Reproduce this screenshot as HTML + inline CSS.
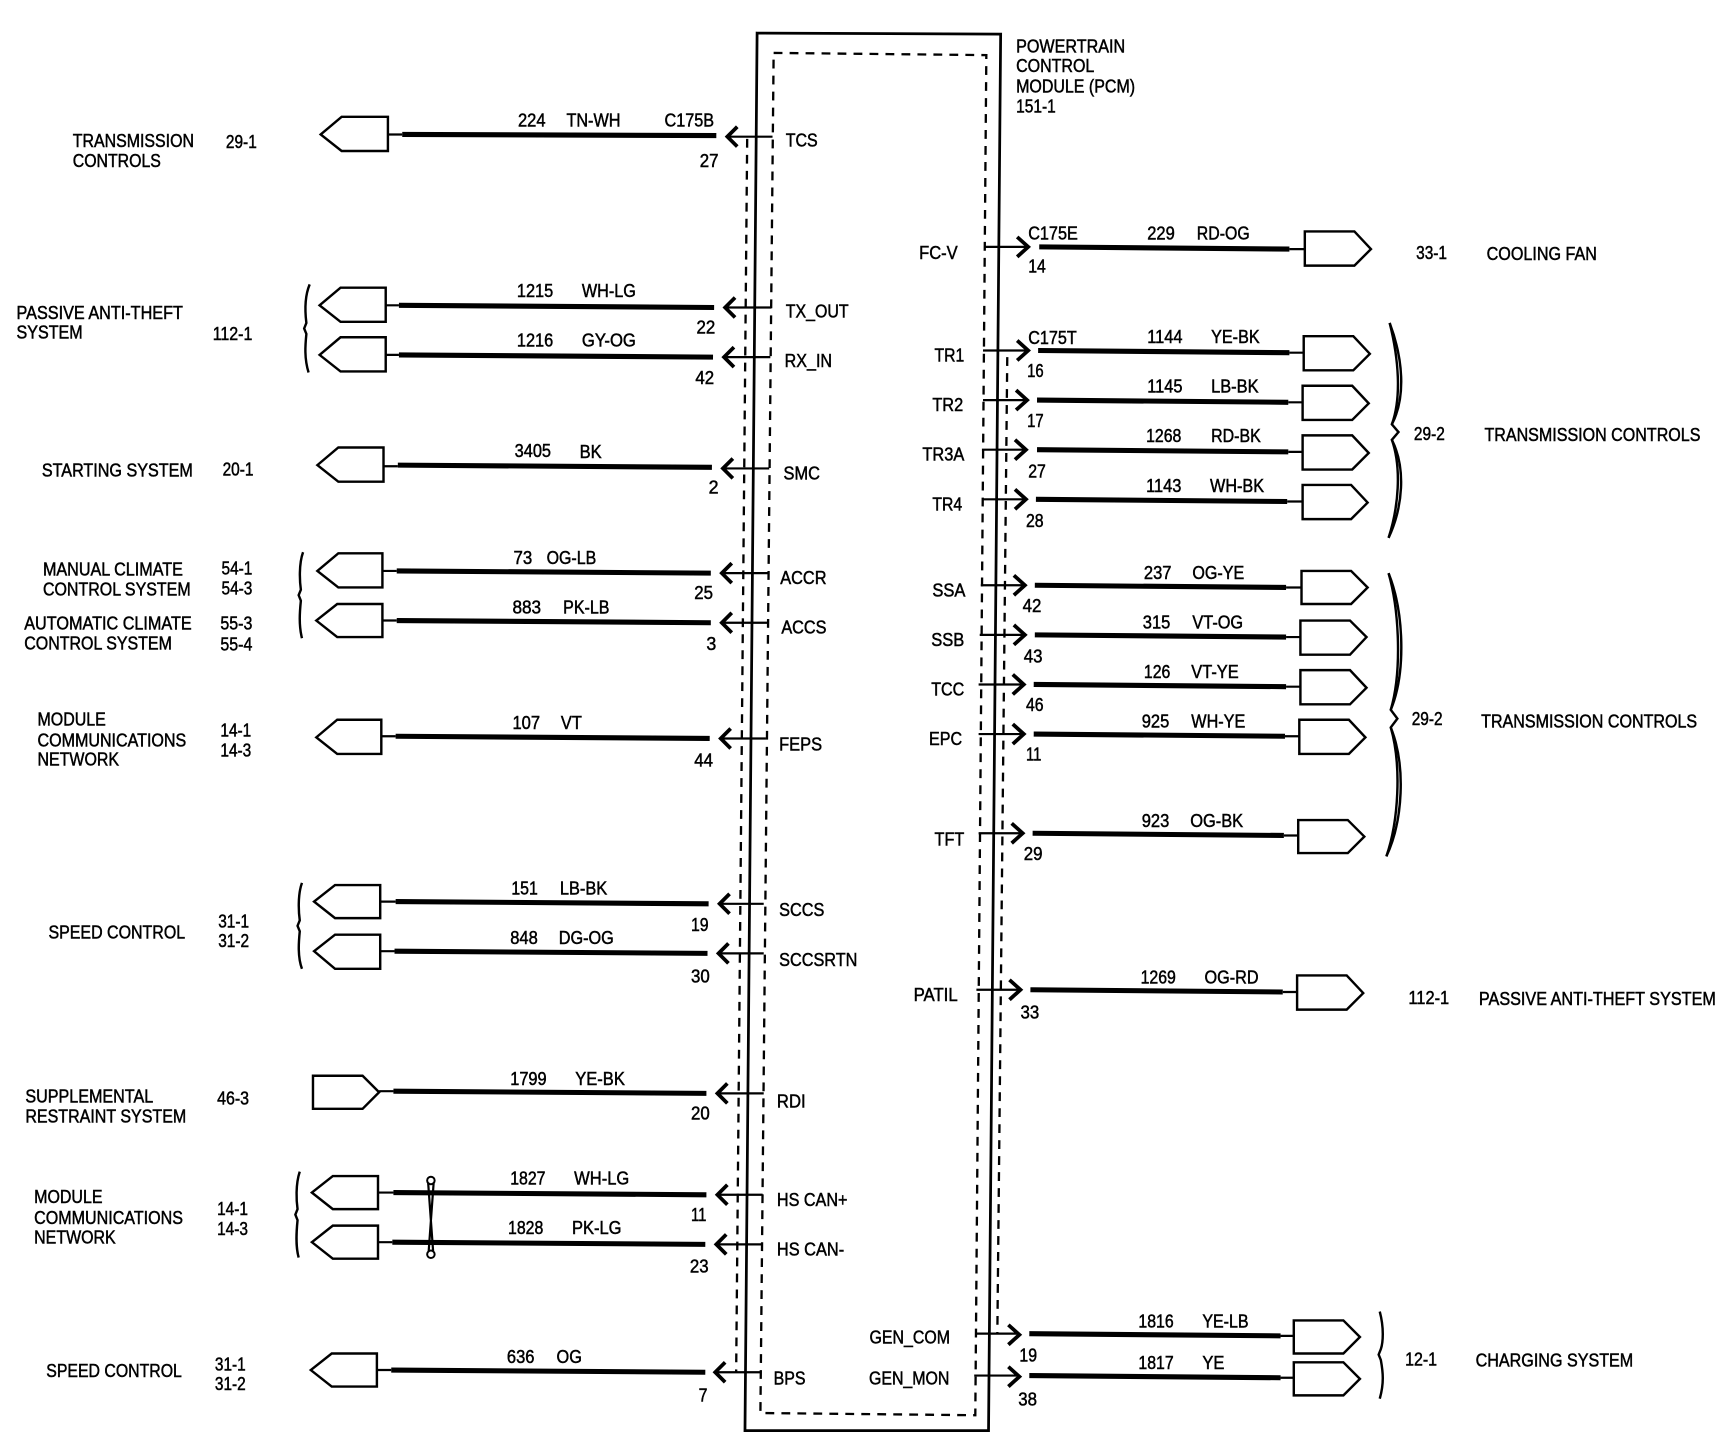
<!DOCTYPE html>
<html><head><meta charset="utf-8"><style>
html,body{margin:0;padding:0;background:#fff;width:1728px;height:1456px;overflow:hidden}
svg{display:block}
text{font-family:"Liberation Sans",sans-serif;font-size:17px;fill:#000;stroke:#000;stroke-width:.45}
.b{fill:#fff;stroke:#000;stroke-width:2.2}
.n{fill:none;stroke:#000;stroke-width:2}
.t{fill:none;stroke:#000;stroke-width:4.6}
.c{fill:none;stroke:#000;stroke-width:3.4}
.d{fill:none;stroke:#000;stroke-width:2.1;stroke-dasharray:8 6.5}
.br{fill:none;stroke:#000;stroke-width:2.2}
</style></head><body>
<svg xmlns="http://www.w3.org/2000/svg" width="1728" height="1456" viewBox="0 0 1568 1321" preserveAspectRatio="none">
<rect width="1568" height="1321" fill="#fff"/>
<!-- module -->
<path d="M687 30 L908 31 L897 1298 L676 1298 Z" fill="none" stroke="#000" stroke-width="2.5"/>
<path class="d" d="M702 48 L895 50 L885 1284 L690 1282 Z"/>
<path class="d" d="M678 126 L668 1245"/>
<path class="d" d="M914 324 L905 1210"/>

<!-- left wires -->
<g>
<path class="b" d="M291 122 L310 106 L352 106 L352 137 L310 137 Z"/><path class="n" d="M352 122 L365 122 M660 124 L701 124"/><path class="t" d="M365 122 L650 123"/><path class="c" d="M669 115 L660 124 L669 133"/>
<path class="b" d="M290 277 L309 261 L350 261 L350 292 L309 292 Z"/><path class="n" d="M350 277 L362 277 M658 279 L700 279"/><path class="t" d="M362 277 L648 279"/><path class="c" d="M667 270 L658 279 L667 288"/>
<path class="b" d="M290 322 L309 306 L350 306 L350 337 L309 337 Z"/><path class="n" d="M350 322 L362 322 M657 324 L699 324"/><path class="t" d="M362 322 L647 324"/><path class="c" d="M666 315 L657 324 L666 333"/>
<path class="b" d="M288 422 L307 406 L348 406 L348 437 L307 437 Z"/><path class="n" d="M348 423 L361 423 M656 425 L698 425"/><path class="t" d="M361 422 L646 424"/><path class="c" d="M665 416 L656 425 L665 434"/>
<path class="b" d="M288 518 L307 502 L347 502 L347 533 L307 533 Z"/><path class="n" d="M347 518 L360 518 M655 520 L697 520"/><path class="t" d="M360 518 L645 520"/><path class="c" d="M664 511 L655 520 L664 529"/>
<path class="b" d="M287 563 L306 548 L347 548 L347 578 L306 578 Z"/><path class="n" d="M347 563 L360 563 M655 565 L697 565"/><path class="t" d="M360 563 L645 565"/><path class="c" d="M664 556 L655 565 L664 574"/>
<path class="b" d="M287 669 L306 653 L346 653 L346 684 L306 684 Z"/><path class="n" d="M346 668 L359 668 M654 670 L695 670"/><path class="t" d="M359 668 L644 670"/><path class="c" d="M663 661 L654 670 L663 679"/>
<path class="b" d="M285 818 L304 803 L345 803 L345 833 L304 833 Z"/><path class="n" d="M345 818 L359 818 M653 820 L693 820"/><path class="t" d="M359 818 L643 820"/><path class="c" d="M662 811 L653 820 L662 829"/>
<path class="b" d="M285 863 L304 848 L345 848 L345 879 L304 879 Z"/><path class="n" d="M345 863 L358 863 M652 865 L693 865"/><path class="t" d="M358 863 L642 865"/><path class="c" d="M661 856 L652 865 L661 874"/>
<path class="b" d="M284 976 L329 976 L344 991 L329 1006 L284 1006 Z"/><path class="n" d="M344 990 L357 990 M651 992 L693 992"/><path class="t" d="M357 990 L641 992"/><path class="c" d="M660 983 L651 992 L660 1001"/>
<path class="b" d="M283 1082 L302 1067 L343 1067 L343 1097 L302 1097 Z"/><path class="n" d="M343 1082 L357 1082 M651 1084 L692 1084"/><path class="t" d="M357 1082 L641 1084"/><path class="c" d="M660 1075 L651 1084 L660 1093"/>
<path class="b" d="M283 1127 L302 1112 L343 1112 L343 1142 L302 1142 Z"/><path class="n" d="M343 1127 L356 1127 M650 1129 L692 1129"/><path class="t" d="M356 1127 L640 1129"/><path class="c" d="M659 1120 L650 1129 L659 1138"/>
<path class="b" d="M282 1243 L301 1228 L342 1228 L342 1258 L301 1258 Z"/><path class="n" d="M342 1243 L355 1243 M649 1245 L691 1245"/><path class="t" d="M355 1243 L640 1245"/><path class="c" d="M658 1236 L649 1245 L658 1254"/>
</g>
<!-- twisted pair -->
<circle cx="391" cy="1071" r="3.4" fill="none" stroke="#000" stroke-width="1.8"/>
<circle cx="391" cy="1138" r="3.4" fill="none" stroke="#000" stroke-width="1.8"/>
<path class="n" d="M388.5 1073 L393 1135 M393.5 1073 L389 1135"/>

<!-- right wires -->
<g>
<path class="n" d="M893 224 L932 224 M1170 226 L1184 226"/><path class="t" d="M943 224 L1170 226"/><path class="c" d="M923 215 L933 224 L923 233"/><path class="b" d="M1184 210 L1229 210 L1244 226 L1229 241 L1184 241 Z"/>
<path class="n" d="M892 318 L932 318 M1170 320 L1183 320"/><path class="t" d="M942 318 L1170 320"/><path class="c" d="M923 309 L933 318 L923 327"/><path class="b" d="M1183 305 L1228 305 L1243 321 L1228 336 L1183 336 Z"/>
<path class="n" d="M892 363 L931 363 M1169 365 L1182 365"/><path class="t" d="M941 363 L1169 365"/><path class="c" d="M922 354 L932 363 L922 372"/><path class="b" d="M1182 350 L1227 350 L1242 366 L1227 381 L1182 381 Z"/>
<path class="n" d="M891 408 L930 408 M1169 410 L1182 410"/><path class="t" d="M941 408 L1169 410"/><path class="c" d="M921 399 L931 408 L921 417"/><path class="b" d="M1182 395 L1227 395 L1242 411 L1227 426 L1182 426 Z"/>
<path class="n" d="M891 453 L930 453 M1168 455 L1182 455"/><path class="t" d="M940 453 L1168 455"/><path class="c" d="M921 444 L931 453 L921 462"/><path class="b" d="M1182 440 L1226 440 L1241 456 L1226 471 L1182 471 Z"/>
<path class="n" d="M890 531 L929 531 M1167 533 L1181 533"/><path class="t" d="M939 531 L1167 533"/><path class="c" d="M920 522 L930 531 L920 540"/><path class="b" d="M1181 518 L1226 518 L1241 533 L1226 548 L1181 548 Z"/>
<path class="n" d="M889 576 L929 576 M1167 578 L1180 578"/><path class="t" d="M939 576 L1167 578"/><path class="c" d="M920 567 L930 576 L920 585"/><path class="b" d="M1180 563 L1225 563 L1240 578 L1225 594 L1180 594 Z"/>
<path class="n" d="M888 621 L928 621 M1167 623 L1180 623"/><path class="t" d="M938 621 L1167 623"/><path class="c" d="M919 612 L929 621 L919 630"/><path class="b" d="M1180 608 L1225 608 L1240 624 L1225 639 L1180 639 Z"/>
<path class="n" d="M888 666 L928 666 M1166 668 L1179 668"/><path class="t" d="M938 666 L1166 668"/><path class="c" d="M919 657 L929 666 L919 675"/><path class="b" d="M1179 653 L1224 653 L1239 669 L1224 684 L1179 684 Z"/>
<path class="n" d="M888 756 L927 756 M1165 758 L1178 758"/><path class="t" d="M937 756 L1165 758"/><path class="c" d="M918 747 L928 756 L918 765"/><path class="b" d="M1178 744 L1223 744 L1238 759 L1223 774 L1178 774 Z"/>
<path class="n" d="M886 898 L925 898 M1164 900 L1177 900"/><path class="t" d="M935 898 L1164 900"/><path class="c" d="M916 889 L926 898 L916 907"/><path class="b" d="M1177 885 L1222 885 L1237 901 L1222 916 L1177 916 Z"/>
<path class="n" d="M885 1210 L923 1210 M1162 1212 L1174 1212"/><path class="t" d="M934 1210 L1162 1212"/><path class="c" d="M915 1202 L925 1211 L915 1220"/><path class="b" d="M1174 1198 L1219 1198 L1234 1213 L1219 1228 L1174 1228 Z"/>
<path class="n" d="M884 1248 L923 1248 M1162 1250 L1174 1250"/><path class="t" d="M934 1248 L1162 1250"/><path class="c" d="M915 1240 L925 1249 L915 1258"/><path class="b" d="M1174 1236 L1219 1236 L1234 1251 L1219 1266 L1174 1266 Z"/>
</g>

<!-- braces -->
<path class="br" d="M281 258 C276 270 277 285 278 293 L276 298 L278 303 C277 313 276 325 280 338"/>
<path class="br" d="M275 501 C271 512 272 528 273 535 L271 540 L273 545 C272 555 271 567 274 579"/>
<path class="br" d="M274 801 C270 812 271 828 272 835 L270 840 L272 845 C271 855 270 868 274 879"/>
<path class="br" d="M272 1063 C268 1075 269 1090 270 1097 L268 1102 L270 1107 C269 1117 268 1130 271 1141"/>
<path class="br" d="M1261 293 C1273 325 1276 360 1263 385 L1269 392 L1263 399 C1276 425 1273 460 1260 488"/>
<path class="br" d="M1261 293 C1269 325 1272 360 1263 385 M1263 399 C1272 425 1269 460 1260 488" stroke-width="1.4"/>
<path class="br" d="M1260 520 C1274 555 1276 610 1262 644 L1268 652 L1262 660 C1276 695 1273 745 1258 777"/>
<path class="br" d="M1260 520 C1270 555 1272 610 1262 644 M1262 660 C1272 695 1269 745 1258 777" stroke-width="1.4"/>
<path class="br" d="M1252 1190 C1256 1205 1255 1218 1253 1224 L1251 1229 L1253 1234 C1255 1245 1256 1255 1252 1269" stroke-width="2.6"/>

<!-- left labels -->
<g transform="translate(0,-.7)">
<text x="66" y="134" textLength="110" lengthAdjust="spacingAndGlyphs">TRANSMISSION</text>
<text x="66" y="152" textLength="80" lengthAdjust="spacingAndGlyphs">CONTROLS</text>
<text x="205" y="135" textLength="28" lengthAdjust="spacingAndGlyphs">29-1</text>
<text x="15" y="290" textLength="151" lengthAdjust="spacingAndGlyphs">PASSIVE ANTI-THEFT</text>
<text x="15" y="308" textLength="60" lengthAdjust="spacingAndGlyphs">SYSTEM</text>
<text x="193" y="309" textLength="36" lengthAdjust="spacingAndGlyphs">112-1</text>
<text x="38" y="433" textLength="137" lengthAdjust="spacingAndGlyphs">STARTING SYSTEM</text>
<text x="202" y="432" textLength="28" lengthAdjust="spacingAndGlyphs">20-1</text>
<text x="39" y="523" textLength="127" lengthAdjust="spacingAndGlyphs">MANUAL CLIMATE</text>
<text x="39" y="541" textLength="134" lengthAdjust="spacingAndGlyphs">CONTROL SYSTEM</text>
<text x="201" y="522" textLength="28" lengthAdjust="spacingAndGlyphs">54-1</text>
<text x="201" y="540" textLength="28" lengthAdjust="spacingAndGlyphs">54-3</text>
<text x="22" y="572" textLength="152" lengthAdjust="spacingAndGlyphs">AUTOMATIC CLIMATE</text>
<text x="22" y="590" textLength="134" lengthAdjust="spacingAndGlyphs">CONTROL SYSTEM</text>
<text x="200" y="572" textLength="29" lengthAdjust="spacingAndGlyphs">55-3</text>
<text x="200" y="591" textLength="29" lengthAdjust="spacingAndGlyphs">55-4</text>
<text x="34" y="659" textLength="62" lengthAdjust="spacingAndGlyphs">MODULE</text>
<text x="34" y="678" textLength="135" lengthAdjust="spacingAndGlyphs">COMMUNICATIONS</text>
<text x="34" y="695" textLength="74" lengthAdjust="spacingAndGlyphs">NETWORK</text>
<text x="200" y="669" textLength="28" lengthAdjust="spacingAndGlyphs">14-1</text>
<text x="200" y="687" textLength="28" lengthAdjust="spacingAndGlyphs">14-3</text>
<text x="44" y="852" textLength="124" lengthAdjust="spacingAndGlyphs">SPEED CONTROL</text>
<text x="198" y="842" textLength="28" lengthAdjust="spacingAndGlyphs">31-1</text>
<text x="198" y="860" textLength="28" lengthAdjust="spacingAndGlyphs">31-2</text>
<text x="23" y="1001" textLength="116" lengthAdjust="spacingAndGlyphs">SUPPLEMENTAL</text>
<text x="23" y="1019" textLength="146" lengthAdjust="spacingAndGlyphs">RESTRAINT SYSTEM</text>
<text x="197" y="1003" textLength="29" lengthAdjust="spacingAndGlyphs">46-3</text>
<text x="31" y="1092" textLength="62" lengthAdjust="spacingAndGlyphs">MODULE</text>
<text x="31" y="1111" textLength="135" lengthAdjust="spacingAndGlyphs">COMMUNICATIONS</text>
<text x="31" y="1129" textLength="74" lengthAdjust="spacingAndGlyphs">NETWORK</text>
<text x="197" y="1103" textLength="28" lengthAdjust="spacingAndGlyphs">14-1</text>
<text x="197" y="1121" textLength="28" lengthAdjust="spacingAndGlyphs">14-3</text>
<text x="42" y="1250" textLength="123" lengthAdjust="spacingAndGlyphs">SPEED CONTROL</text>
<text x="195" y="1244" textLength="28" lengthAdjust="spacingAndGlyphs">31-1</text>
<text x="195" y="1262" textLength="28" lengthAdjust="spacingAndGlyphs">31-2</text>
</g>

<!-- left wire labels -->
<g transform="translate(0,-.4)">
<text x="470" y="115" textLength="25" lengthAdjust="spacingAndGlyphs">224</text>
<text x="514" y="115" textLength="49" lengthAdjust="spacingAndGlyphs">TN-WH</text>
<text x="603" y="115" textLength="45" lengthAdjust="spacingAndGlyphs">C175B</text>
<text x="635" y="152" textLength="17" lengthAdjust="spacingAndGlyphs">27</text>
<text x="469" y="270" textLength="33" lengthAdjust="spacingAndGlyphs">1215</text>
<text x="528" y="270" textLength="49" lengthAdjust="spacingAndGlyphs">WH-LG</text>
<text x="632" y="303" textLength="17" lengthAdjust="spacingAndGlyphs">22</text>
<text x="469" y="315" textLength="33" lengthAdjust="spacingAndGlyphs">1216</text>
<text x="528" y="315" textLength="49" lengthAdjust="spacingAndGlyphs">GY-OG</text>
<text x="631" y="349" textLength="17" lengthAdjust="spacingAndGlyphs">42</text>
<text x="467" y="415" textLength="33" lengthAdjust="spacingAndGlyphs">3405</text>
<text x="526" y="416" textLength="20" lengthAdjust="spacingAndGlyphs">BK</text>
<text x="643" y="448" textLength="9" lengthAdjust="spacingAndGlyphs">2</text>
<text x="466" y="512" textLength="17" lengthAdjust="spacingAndGlyphs">73</text>
<text x="496" y="512" textLength="45" lengthAdjust="spacingAndGlyphs">OG-LB</text>
<text x="630" y="544" textLength="17" lengthAdjust="spacingAndGlyphs">25</text>
<text x="465" y="557" textLength="26" lengthAdjust="spacingAndGlyphs">883</text>
<text x="511" y="557" textLength="42" lengthAdjust="spacingAndGlyphs">PK-LB</text>
<text x="641" y="590" textLength="9" lengthAdjust="spacingAndGlyphs">3</text>
<text x="465" y="662" textLength="25" lengthAdjust="spacingAndGlyphs">107</text>
<text x="509" y="662" textLength="19" lengthAdjust="spacingAndGlyphs">VT</text>
<text x="630" y="696" textLength="17" lengthAdjust="spacingAndGlyphs">44</text>
<text x="464" y="812" textLength="24" lengthAdjust="spacingAndGlyphs">151</text>
<text x="508" y="812" textLength="43" lengthAdjust="spacingAndGlyphs">LB-BK</text>
<text x="627" y="845" textLength="16" lengthAdjust="spacingAndGlyphs">19</text>
<text x="463" y="857" textLength="25" lengthAdjust="spacingAndGlyphs">848</text>
<text x="507" y="857" textLength="50" lengthAdjust="spacingAndGlyphs">DG-OG</text>
<text x="627" y="892" textLength="17" lengthAdjust="spacingAndGlyphs">30</text>
<text x="463" y="985" textLength="33" lengthAdjust="spacingAndGlyphs">1799</text>
<text x="522" y="985" textLength="45" lengthAdjust="spacingAndGlyphs">YE-BK</text>
<text x="627" y="1016" textLength="17" lengthAdjust="spacingAndGlyphs">20</text>
<text x="463" y="1075" textLength="32" lengthAdjust="spacingAndGlyphs">1827</text>
<text x="521" y="1075" textLength="50" lengthAdjust="spacingAndGlyphs">WH-LG</text>
<text x="627" y="1108" textLength="14" lengthAdjust="spacingAndGlyphs">11</text>
<text x="461" y="1120" textLength="32" lengthAdjust="spacingAndGlyphs">1828</text>
<text x="519" y="1120" textLength="45" lengthAdjust="spacingAndGlyphs">PK-LG</text>
<text x="626" y="1155" textLength="17" lengthAdjust="spacingAndGlyphs">23</text>
<text x="460" y="1237" textLength="25" lengthAdjust="spacingAndGlyphs">636</text>
<text x="505" y="1237" textLength="23" lengthAdjust="spacingAndGlyphs">OG</text>
<text x="634" y="1272" textLength="8" lengthAdjust="spacingAndGlyphs">7</text>
</g>

<!-- pin labels left -->
<text x="713" y="133" textLength="29" lengthAdjust="spacingAndGlyphs">TCS</text>
<text x="713" y="288" textLength="57" lengthAdjust="spacingAndGlyphs">TX_OUT</text>
<text x="712" y="333" textLength="43" lengthAdjust="spacingAndGlyphs">RX_IN</text>
<text x="711" y="435" textLength="33" lengthAdjust="spacingAndGlyphs">SMC</text>
<text x="708" y="530" textLength="42" lengthAdjust="spacingAndGlyphs">ACCR</text>
<text x="709" y="575" textLength="41" lengthAdjust="spacingAndGlyphs">ACCS</text>
<text x="707" y="681" textLength="39" lengthAdjust="spacingAndGlyphs">FEPS</text>
<text x="707" y="831" textLength="41" lengthAdjust="spacingAndGlyphs">SCCS</text>
<text x="707" y="876.5" textLength="71" lengthAdjust="spacingAndGlyphs">SCCSRTN</text>
<text x="705" y="1005" textLength="26" lengthAdjust="spacingAndGlyphs">RDI</text>
<text x="705" y="1094" textLength="64" lengthAdjust="spacingAndGlyphs">HS CAN+</text>
<text x="705" y="1139" textLength="61" lengthAdjust="spacingAndGlyphs">HS CAN-</text>
<text x="702" y="1256" textLength="29" lengthAdjust="spacingAndGlyphs">BPS</text>

<!-- module title -->
<text x="922" y="47.5" textLength="99" lengthAdjust="spacingAndGlyphs">POWERTRAIN</text>
<text x="922" y="65.5" textLength="71" lengthAdjust="spacingAndGlyphs">CONTROL</text>
<text x="922" y="84" textLength="108" lengthAdjust="spacingAndGlyphs">MODULE (PCM)</text>
<text x="922" y="102" textLength="36" lengthAdjust="spacingAndGlyphs">151-1</text>

<!-- pin labels right -->
<text x="834" y="235" textLength="35" lengthAdjust="spacingAndGlyphs">FC-V</text>
<text x="848" y="328" textLength="27" lengthAdjust="spacingAndGlyphs">TR1</text>
<text x="846" y="373" textLength="28" lengthAdjust="spacingAndGlyphs">TR2</text>
<text x="837" y="418" textLength="38" lengthAdjust="spacingAndGlyphs">TR3A</text>
<text x="846" y="463" textLength="27" lengthAdjust="spacingAndGlyphs">TR4</text>
<text x="846" y="541" textLength="30" lengthAdjust="spacingAndGlyphs">SSA</text>
<text x="845" y="586" textLength="30" lengthAdjust="spacingAndGlyphs">SSB</text>
<text x="845" y="631" textLength="30" lengthAdjust="spacingAndGlyphs">TCC</text>
<text x="843" y="676" textLength="30" lengthAdjust="spacingAndGlyphs">EPC</text>
<text x="848" y="767" textLength="27" lengthAdjust="spacingAndGlyphs">TFT</text>
<text x="829" y="908" textLength="40" lengthAdjust="spacingAndGlyphs">PATIL</text>
<text x="789" y="1219" textLength="73" lengthAdjust="spacingAndGlyphs">GEN_COM</text>
<text x="788.5" y="1256" textLength="73" lengthAdjust="spacingAndGlyphs">GEN_MON</text>

<!-- right wire labels -->
<g transform="translate(0,-.8)">
<text x="933" y="218" textLength="45" lengthAdjust="spacingAndGlyphs">C175E</text>
<text x="1041" y="218" textLength="25" lengthAdjust="spacingAndGlyphs">229</text>
<text x="1086" y="218" textLength="48" lengthAdjust="spacingAndGlyphs">RD-OG</text>
<text x="933" y="248" textLength="16" lengthAdjust="spacingAndGlyphs">14</text>
<text x="933" y="313" textLength="44" lengthAdjust="spacingAndGlyphs">C175T</text>
<text x="1041" y="312" textLength="32" lengthAdjust="spacingAndGlyphs">1144</text>
<text x="1099" y="312" textLength="44" lengthAdjust="spacingAndGlyphs">YE-BK</text>
<text x="932" y="343" textLength="15" lengthAdjust="spacingAndGlyphs">16</text>
<text x="1041" y="357" textLength="32" lengthAdjust="spacingAndGlyphs">1145</text>
<text x="1099" y="357" textLength="43" lengthAdjust="spacingAndGlyphs">LB-BK</text>
<text x="932" y="388" textLength="15" lengthAdjust="spacingAndGlyphs">17</text>
<text x="1040" y="402" textLength="32" lengthAdjust="spacingAndGlyphs">1268</text>
<text x="1099" y="402" textLength="45" lengthAdjust="spacingAndGlyphs">RD-BK</text>
<text x="933" y="434" textLength="16" lengthAdjust="spacingAndGlyphs">27</text>
<text x="1040" y="447" textLength="32" lengthAdjust="spacingAndGlyphs">1143</text>
<text x="1098" y="447" textLength="49" lengthAdjust="spacingAndGlyphs">WH-BK</text>
<text x="931" y="479" textLength="16" lengthAdjust="spacingAndGlyphs">28</text>
<text x="1038" y="526" textLength="25" lengthAdjust="spacingAndGlyphs">237</text>
<text x="1082" y="526" textLength="47" lengthAdjust="spacingAndGlyphs">OG-YE</text>
<text x="928" y="556" textLength="17" lengthAdjust="spacingAndGlyphs">42</text>
<text x="1037" y="571" textLength="25" lengthAdjust="spacingAndGlyphs">315</text>
<text x="1082" y="571" textLength="46" lengthAdjust="spacingAndGlyphs">VT-OG</text>
<text x="929" y="602" textLength="17" lengthAdjust="spacingAndGlyphs">43</text>
<text x="1038" y="616" textLength="24" lengthAdjust="spacingAndGlyphs">126</text>
<text x="1081" y="616" textLength="43" lengthAdjust="spacingAndGlyphs">VT-YE</text>
<text x="931" y="646" textLength="16" lengthAdjust="spacingAndGlyphs">46</text>
<text x="1036" y="661" textLength="25" lengthAdjust="spacingAndGlyphs">925</text>
<text x="1081" y="661" textLength="49" lengthAdjust="spacingAndGlyphs">WH-YE</text>
<text x="931" y="691" textLength="14" lengthAdjust="spacingAndGlyphs">11</text>
<text x="1036" y="751" textLength="25" lengthAdjust="spacingAndGlyphs">923</text>
<text x="1080" y="751" textLength="48" lengthAdjust="spacingAndGlyphs">OG-BK</text>
<text x="929" y="781" textLength="17" lengthAdjust="spacingAndGlyphs">29</text>
<text x="1035" y="893" textLength="32" lengthAdjust="spacingAndGlyphs">1269</text>
<text x="1093" y="893" textLength="49" lengthAdjust="spacingAndGlyphs">OG-RD</text>
<text x="926" y="925" textLength="17" lengthAdjust="spacingAndGlyphs">33</text>
<text x="1033" y="1205" textLength="32" lengthAdjust="spacingAndGlyphs">1816</text>
<text x="1091" y="1205" textLength="42" lengthAdjust="spacingAndGlyphs">YE-LB</text>
<text x="925" y="1236" textLength="16" lengthAdjust="spacingAndGlyphs">19</text>
<text x="1033" y="1243" textLength="32" lengthAdjust="spacingAndGlyphs">1817</text>
<text x="1091" y="1243" textLength="20" lengthAdjust="spacingAndGlyphs">YE</text>
<text x="924" y="1276" textLength="17" lengthAdjust="spacingAndGlyphs">38</text>
</g>

<!-- far right labels -->
<text x="1285" y="235" textLength="28" lengthAdjust="spacingAndGlyphs">33-1</text>
<text x="1349" y="236" textLength="100" lengthAdjust="spacingAndGlyphs">COOLING FAN</text>
<text x="1283" y="399" textLength="28" lengthAdjust="spacingAndGlyphs">29-2</text>
<text x="1347" y="400" textLength="196" lengthAdjust="spacingAndGlyphs">TRANSMISSION CONTROLS</text>
<text x="1281" y="658" textLength="28" lengthAdjust="spacingAndGlyphs">29-2</text>
<text x="1344" y="660" textLength="196" lengthAdjust="spacingAndGlyphs">TRANSMISSION CONTROLS</text>
<text x="1278" y="911" textLength="37" lengthAdjust="spacingAndGlyphs">112-1</text>
<text x="1342" y="912" textLength="215" lengthAdjust="spacingAndGlyphs">PASSIVE ANTI-THEFT SYSTEM</text>
<text x="1275" y="1239" textLength="29" lengthAdjust="spacingAndGlyphs">12-1</text>
<text x="1339" y="1240" textLength="143" lengthAdjust="spacingAndGlyphs">CHARGING SYSTEM</text>
</svg>
</body></html>
